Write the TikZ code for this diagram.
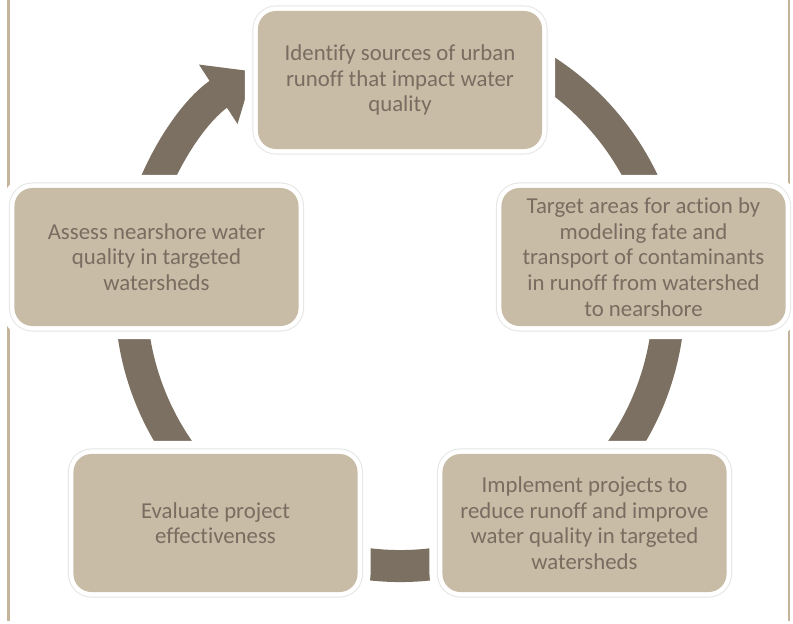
\documentclass[tikz,border=0pt]{standalone}
\usepackage{fontspec}
\setmainfont{Carlito}[Ligatures=NoCommon]
\usetikzlibrary{arrows.meta}
\definecolor{ringbrown}{RGB}{123,112,97}
\definecolor{boxtan}{RGB}{200,188,166}
\definecolor{textbrown}{RGB}{120,109,96}
\definecolor{framebeige}{RGB}{196,180,155}
\tikzset{
  stepbox/.style={rounded corners=0.45cm, fill=boxtan, text=textbrown, align=center,
    minimum width=7.1cm, minimum height=3.45cm, inner sep=0pt,
    font=\fontsize{16.2pt}{18.2pt}\selectfont,
    preaction={draw=white, line width=0.65cm},
    preaction={draw=black!10, line width=0.275cm},
    preaction={draw=white, line width=0.225cm}}
}
\begin{document}
\begin{tikzpicture}[x=0.025cm, y=-0.025cm, line join=round]
\useasboundingbox (0,0) rectangle (793,623);
\draw[framebeige, line width=0.0625cm] (8.5,0)--(8.5,621) (789,0)--(789,621);
\coordinate (hub) at (400,297);
\draw[ringbrown, line width=0.8cm, -{Triangle[length=1.05cm, width=1.7cm]}]
  (hub) ++(-80:269) arc[start angle=-80, end angle=237, radius=269];
\path
(400,80) node[stepbox] (identify) {Identify sources of urban\\runoff that impact water\\quality}
(643.5,257) node[stepbox] (target) {Target areas for action by\\modeling fate and\\transport of contaminants\\in runoff from watershed\\to nearshore}
(584.5,523) node[stepbox] (implement) {Implement projects to\\reduce runoff and improve\\water quality in targeted\\watersheds}
(215.5,523) node[stepbox] (evaluate) {Evaluate project\\effectiveness}
(156.5,257) node[stepbox] (assess) {Assess nearshore water\\quality in targeted\\watersheds};
\end{tikzpicture}
\end{document}
